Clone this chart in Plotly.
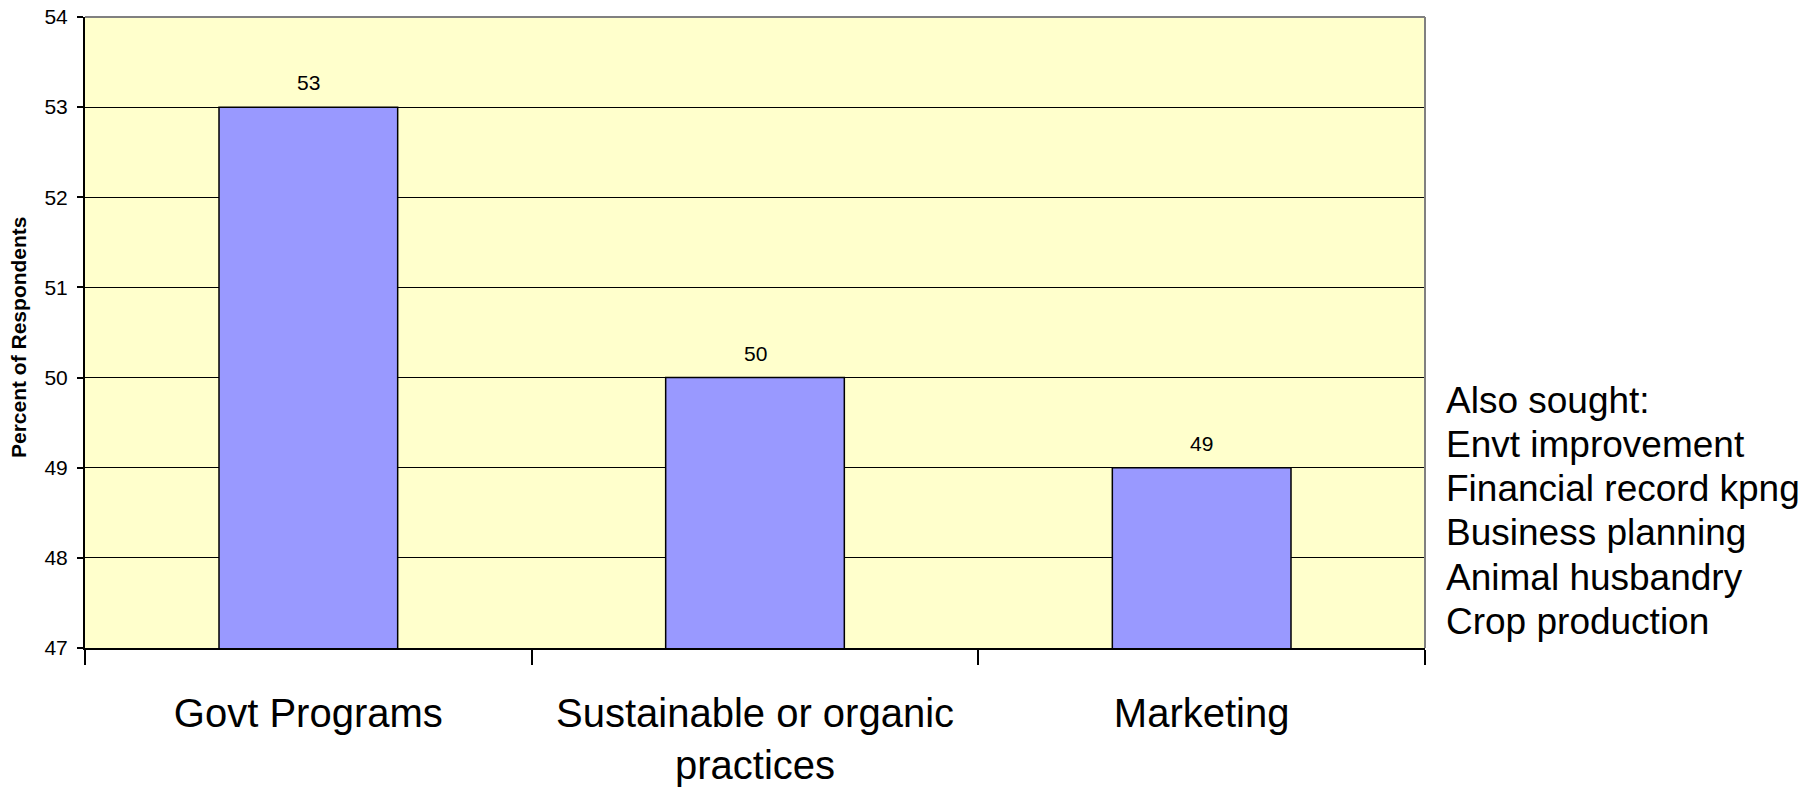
import plotly.graph_objects as go

# Survey results: share of respondents seeking information on each topic
categories = ["Govt Programs", "Sustainable or organic<br>practices", "Marketing"]
percent = [53, 50, 49]

# Other topics listed beside the chart
also_sought = [
    "Also sought:",
    "Envt improvement",
    "Financial record kpng",
    "Business planning",
    "Animal husbandry",
    "Crop production",
]

y_ticks = [47, 48, 49, 50, 51, 52, 53, 54]

W, H = 1820, 796
M_L, M_R, M_T, M_B = 85, 395, 17, 148
PLOT_W = W - M_L - M_R
PLOT_H = H - M_T - M_B
FONT = "Liberation Sans, Arial, sans-serif"


def px_to_paper_x(px):
    return (px - M_L) / PLOT_W


def px_to_paper_y(py):
    return (H - M_B - py) / PLOT_H


fig = go.Figure(
    go.Bar(
        x=categories,
        y=percent,
        marker=dict(color="#9999FF", line=dict(color="black", width=1.5)),
        hoverinfo="x+y",
    )
)

annotations = []

# value labels above each bar
for cat, val in zip(categories, percent):
    annotations.append(
        dict(
            x=cat, y=val, xref="x", yref="y",
            text=str(val), showarrow=False,
            yanchor="bottom", yshift=11,
            font=dict(family=FONT, size=21, color="black"),
        )
    )

# y axis title
annotations.append(
    dict(
        x=px_to_paper_x(18), y=px_to_paper_y(337), xref="paper", yref="paper",
        text="Percent of Respondents", showarrow=False, textangle=-90,
        xanchor="center", yanchor="middle",
        font=dict(family=FONT, size=21, color="black", weight="bold"),
    )
)

# side list, one line each
first_baseline, line_step, side_size = 413.5, 44.1, 37
for i, line in enumerate(also_sought):
    baseline = first_baseline + i * line_step
    annotations.append(
        dict(
            x=px_to_paper_x(1444), y=px_to_paper_y(baseline - 0.3465 * side_size),
            xref="paper", yref="paper",
            text=line, showarrow=False,
            xanchor="left", yanchor="middle",
            font=dict(family=FONT, size=side_size, color="black"),
        )
    )

fig.update_layout(
    width=W, height=H,
    margin=dict(l=M_L, r=M_R, t=M_T, b=M_B, pad=0),
    paper_bgcolor="white",
    plot_bgcolor="#FFFFCC",
    bargap=0.6,
    showlegend=False,
    annotations=annotations,
    shapes=[
        dict(type="line", xref="paper", yref="paper", x0=0, x1=1, y0=1, y1=1,
             line=dict(color="#808080", width=2), layer="above"),
        dict(type="line", xref="paper", yref="paper", x0=1, x1=1, y0=0, y1=1,
             line=dict(color="#808080", width=2), layer="above"),
    ],
    xaxis=dict(
        type="category",
        tickson="boundaries",
        ticks="outside", ticklen=15, tickwidth=1.5, tickcolor="black",
        showline=True, linecolor="black", linewidth=2,
        showgrid=False,
        tickfont=dict(family=FONT, size=40, color="black"),
        ticklabelstandoff=29,
        automargin=False,
    ),
    yaxis=dict(
        range=[47, 54],
        tickvals=y_ticks,
        ticks="outside", ticklen=6, tickwidth=1.5, tickcolor="black",
        showline=True, linecolor="black", linewidth=2,
        showgrid=True, gridcolor="black", gridwidth=1.3,
        zeroline=False,
        tickfont=dict(family=FONT, size=21, color="black"),
        ticklabelstandoff=5,
        automargin=False,
    ),
)

fig.write_html("out.html")
